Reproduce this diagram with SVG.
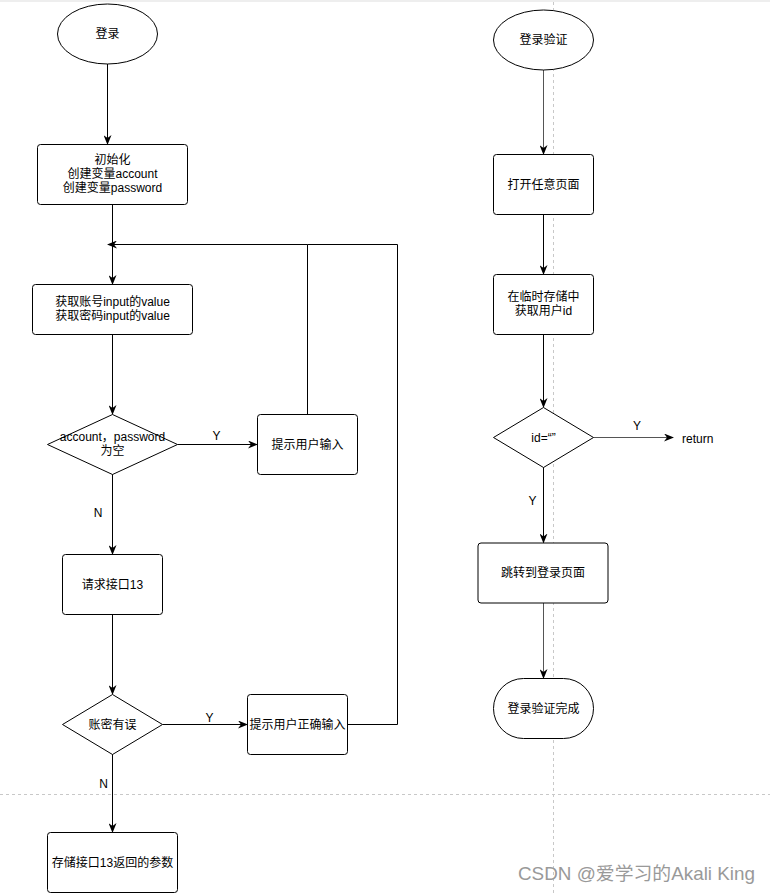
<svg xmlns="http://www.w3.org/2000/svg" width="770" height="893" viewBox="0 0 770 893">
<defs>
<style>
text{font-family:"Liberation Sans","Noto Sans CJK SC",sans-serif;font-size:12px;fill:#000;text-anchor:middle}
.node{fill:#fff;stroke:#000;stroke-width:1}
.edge{fill:none;stroke:#000;stroke-width:1}
.edge.g{stroke:#555}
.lbl{font-size:12px}
.grid{stroke:#c8c8c8;stroke-width:1;stroke-dasharray:3 3;fill:none}
.wm{font-size:18.5px;fill:#999;text-anchor:start}
</style>
<marker id="arr" viewBox="0 0 10 8" refX="9" refY="4" markerWidth="10" markerHeight="8" markerUnits="userSpaceOnUse" orient="auto">
<path d="M0,0 L10,4 L0,8 L3,4 z" fill="#000"/>
</marker>
</defs>
<rect x="0" y="0" width="770" height="893" fill="#fff"/>
<rect x="0" y="0" width="770" height="2" fill="#eee"/>
<line class="grid" x1="553.5" y1="2" x2="553.5" y2="893"/>
<line class="grid" x1="0" y1="794.5" x2="770" y2="794.5"/>

<g id="connectors">
<path class="edge" d="M107.5,64 V144" marker-end="url(#arr)"/>
<path class="edge" d="M112.5,204 V284" marker-end="url(#arr)"/>
<path class="edge" d="M307.5,414 V244.5 H108" marker-end="url(#arr)"/>
<path class="edge" d="M347.5,724.5 H397.5 V244.5 H307.5"/>
<path class="edge" d="M112.5,334 V414" marker-end="url(#arr)"/>
<path class="edge" d="M177.5,444.5 H257" marker-end="url(#arr)"/>
<path class="edge" d="M112.5,474 V554" marker-end="url(#arr)"/>
<path class="edge" d="M112.5,614 V694" marker-end="url(#arr)"/>
<path class="edge" d="M162.5,724.5 H247" marker-end="url(#arr)"/>
<path class="edge" d="M112.5,754 V832" marker-end="url(#arr)"/>
<path class="edge g" d="M543.5,70 V154" marker-end="url(#arr)"/>
<path class="edge" d="M543.5,214 V274" marker-end="url(#arr)"/>
<path class="edge" d="M543.5,334 V407" marker-end="url(#arr)"/>
<path class="edge g" d="M593.5,437.5 H673" marker-end="url(#arr)"/>
<path class="edge" d="M543.5,467 V542.5" marker-end="url(#arr)"/>
<path class="edge g" d="M543.5,603 V678" marker-end="url(#arr)"/>
<text class="lbl" x="216.5" y="439.5">Y</text>
<text class="lbl" x="98" y="517">N</text>
<text class="lbl" x="209.5" y="722">Y</text>
<text class="lbl" x="103.5" y="788">N</text>
<text class="lbl" x="637" y="430">Y</text>
<text class="lbl" x="532.5" y="505">Y</text>
</g>

<g id="start">
<ellipse class="node" cx="107.5" cy="34" rx="50" ry="30"/>
<text x="107.5" y="38">登录</text>
</g>
<g id="init">
<rect class="node" x="37.5" y="144.5" width="150" height="60" rx="3"/>
<text x="112.5" y="164">初始化</text>
<text x="112.5" y="178">创建变量account</text>
<text x="112.5" y="192">创建变量password</text>
</g>
<g id="getvalue">
<rect class="node" x="32.5" y="284.5" width="160" height="50" rx="3"/>
<text x="112.5" y="305.5">获取账号input的value</text>
<text x="112.5" y="319.5">获取密码input的value</text>
</g>
<g id="isempty">
<polygon class="node" points="112.5,414.5 177.5,444.5 112.5,474.5 47.5,444.5"/>
<text x="112.5" y="441">account，password</text>
<text x="112.5" y="455">为空</text>
</g>
<g id="prompt">
<rect class="node" x="257.5" y="414.5" width="100" height="60" rx="3"/>
<text x="307.5" y="448.5">提示用户输入</text>
</g>
<g id="request">
<rect class="node" x="62.5" y="554.5" width="100" height="60" rx="3"/>
<text x="112.5" y="588.5">请求接口13</text>
</g>
<g id="wrong">
<polygon class="node" points="112.5,694.5 162.5,724.5 112.5,754.5 62.5,724.5"/>
<text x="112.5" y="728.5">账密有误</text>
</g>
<g id="promptcorrect">
<rect class="node" x="247.5" y="694.5" width="100" height="60" rx="3"/>
<text x="297.5" y="728.5">提示用户正确输入</text>
</g>
<g id="store">
<rect class="node" x="47.5" y="832.5" width="130" height="60" rx="3"/>
<text x="112.5" y="866.5">存储接口13返回的参数</text>
</g>

<g id="verify">
<ellipse class="node" cx="543.5" cy="40" rx="50" ry="30"/>
<text x="543.5" y="44">登录验证</text>
</g>
<g id="openpage">
<rect class="node" x="493.5" y="154.5" width="100" height="60" rx="3"/>
<text x="543.5" y="188.5">打开任意页面</text>
</g>
<g id="getid">
<rect class="node" x="493.5" y="274.5" width="100" height="60" rx="3"/>
<text x="543.5" y="301">在临时存储中</text>
<text x="543.5" y="315">获取用户id</text>
</g>
<g id="idempty">
<polygon class="node" points="543.5,407.5 593.5,437.5 543.5,467.5 493.5,437.5"/>
<text x="543.5" y="441.5">id=“”</text>
</g>
<g id="return">
<text x="682" y="442.5" style="text-anchor:start">return</text>
</g>
<g id="jump">
<rect class="node" x="478" y="543" width="130" height="60" rx="3"/>
<text x="543" y="577">跳转到登录页面</text>
</g>
<g id="done">
<rect class="node" x="493.5" y="678.5" width="100" height="60" rx="30"/>
<text x="543.5" y="712.5">登录验证完成</text>
</g>
<text class="wm" x="518" y="880" textLength="237" lengthAdjust="spacingAndGlyphs">CSDN @爱学习的Akali King</text>
</svg>
